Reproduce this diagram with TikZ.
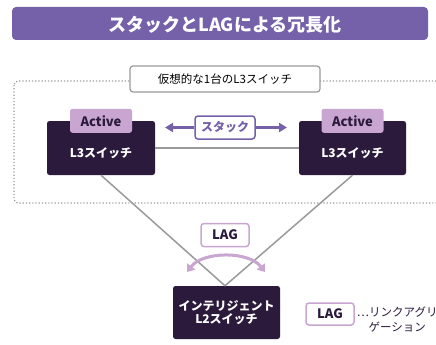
\documentclass[tikz,border=0pt]{standalone}
\usepackage{fontspec}
\setmainfont{Noto Sans CJK JP}
\usetikzlibrary{positioning,arrows.meta}

\definecolor{titlepurple}{HTML}{7461A9}
\definecolor{darkbox}{HTML}{2B1A3B}
\definecolor{lilac}{HTML}{C9A6D1}
\definecolor{linegray}{HTML}{9A9A9A}

\tikzset{
  titlebar/.style={fill=titlepurple, rounded corners=4pt,
    minimum width=416pt, minimum height=33pt, inner sep=0pt},
  titletext/.style={text=white, inner sep=0pt,
    font=\bfseries\fontsize{18}{20}\selectfont},
  switchbox/.style={fill=darkbox, rounded corners=2.5pt, inner sep=0pt},
  switchtext/.style={text=white, align=center, inner sep=0pt,
    font=\bfseries\fontsize{12}{14}\selectfont},
  activetab/.style={fill=lilac, rounded corners=2.5pt, text=darkbox,
    minimum width=62pt, minimum height=24pt, inner sep=0pt,
    font=\bfseries\fontsize{13}{15}\selectfont},
  tagbox/.style={draw=lilac, line width=1.5pt, fill=white, rounded corners=3pt,
    text=darkbox, minimum width=48pt, minimum height=23pt, inner sep=0pt,
    font=\bfseries\fontsize{13}{15}\selectfont},
  link/.style={draw=linegray, line width=1.5pt},
}

\begin{document}
\begin{tikzpicture}[x=1pt,y=-1pt]
\clip (0,0) rectangle (436,345);
\fill[white] (0,0) rectangle (436,345);

% title
\node[titlebar] (title) at (220,23.5) {};
\node[titletext] (titlelbl) at ([xshift=5pt,yshift=-1pt]title.center) {スタックとLAGによる冗長化};

% virtual switch frame
\draw[linegray, line width=1.2pt, dotted, rounded corners=4pt] (14,81) rectangle (460,203);
\node[draw=linegray, line width=1.2pt, fill=white, rounded corners=3pt,
  minimum width=190pt, minimum height=26pt, inner sep=0pt,
  font=\fontsize{11.5}{13}\selectfont] (virt) at (225,79) {仮想的な1台のL3スイッチ};

% L3 switches
\node[switchbox, minimum width=108pt, minimum height=54pt] (swL) at (101,148) {};
\node[switchbox, minimum width=107pt, minimum height=54pt] (swR) at (352.5,148) {};
\node[switchtext] (swLtext) at ([yshift=-5pt]swL.center) {L3スイッチ};
\node[switchtext] (swRtext) at ([yshift=-5pt]swR.center) {L3スイッチ};
\node[activetab] (actL) at (swL.north) {Active};
\node[activetab] (actR) at (swR.north) {Active};

\draw[link] (swL.east) -- (swR.west);

% stack
\node[draw=titlepurple, line width=1.5pt, fill=white, rounded corners=3pt,
  text=titlepurple, minimum width=60pt, minimum height=23pt, inner sep=0pt,
  font=\bfseries\fontsize{12}{14}\selectfont] (stack) at (225,127.5) {スタック};
\coordinate (stackL) at (165,127.5);
\coordinate (stackR) at (287,127.5);
\draw[titlepurple, line width=2.5pt, -{Triangle[width=9pt,length=8pt]}] (stack.west) -- (stackL);
\draw[titlepurple, line width=2.5pt, -{Triangle[width=9pt,length=8pt]}] (stack.east) -- (stackR);

% L2 switch
\node[switchbox, minimum width=107pt, minimum height=53pt] (l2) at (226.5,312.5) {};
\node[switchtext] (l2text) at (l2.center) {インテリジェント\\[-1pt]L2スイッチ};

\draw[link] (swL.south) -- ([xshift=-1.5pt]l2.north);
\draw[link] (swR.south) -- ([xshift=-1.5pt]l2.north);

% LAG
\node[tagbox] (lag) at (225,235) {LAG};
\coordinate (lagL) at (187,272);
\coordinate (lagR) at (265,272);
\draw[lilac, line width=3pt, {Triangle[width=10pt,length=7pt]}-{Triangle[width=10pt,length=7pt]}]
  (lagL) .. controls (203,251) and (249,251) .. (lagR);

% legend
\node[tagbox, minimum height=22pt] (leg) at (330,314) {LAG};
\node[anchor=west, align=center, inner sep=0pt, text=darkbox,
  font=\fontsize{11.5}{15}\selectfont] (legtext) at ([xshift=2pt,yshift=-6pt]leg.east) {⋯リンクアグリ\\ゲーション};
\end{tikzpicture}
\end{document}
